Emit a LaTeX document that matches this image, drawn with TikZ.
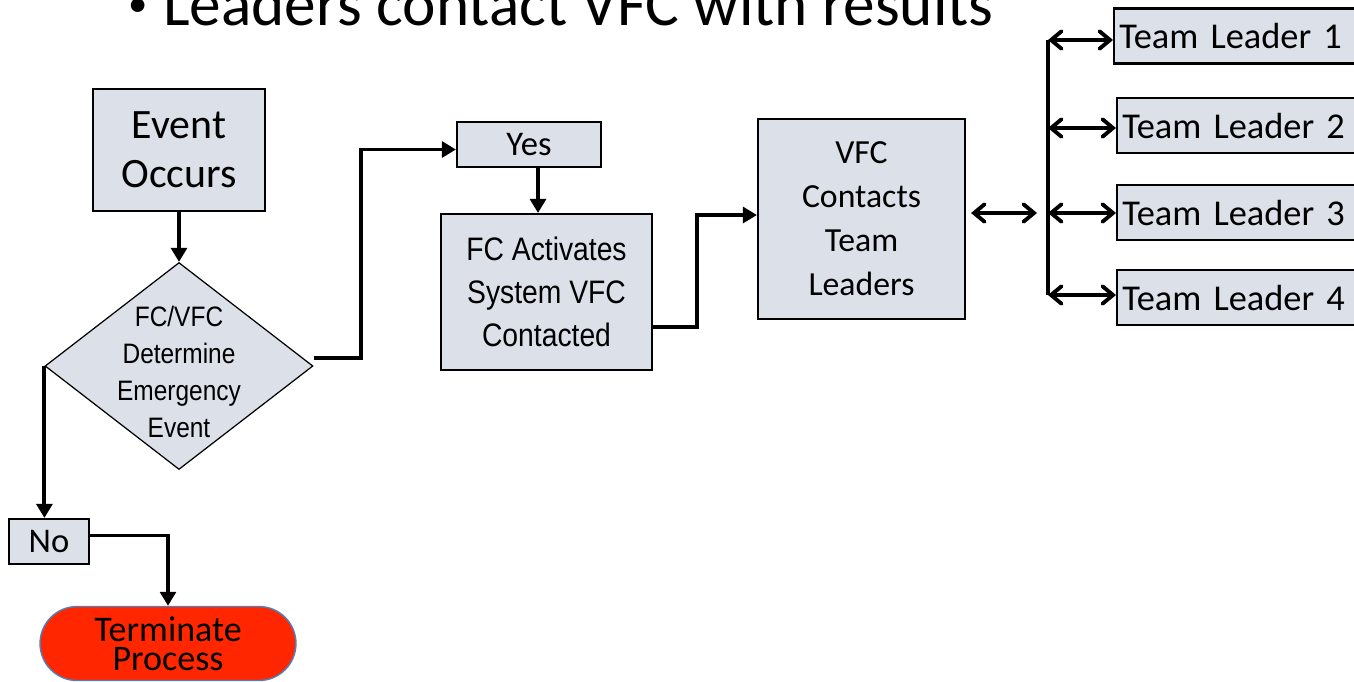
\documentclass[tikz,border=0pt]{standalone}
\usepackage{fontspec}
\setmainfont{Carlito}
\newfontfamily\arialn[FakeStretch=0.87]{Liberation Sans}
\usetikzlibrary{arrows.meta}
\usetikzlibrary{shapes.geometric}
\usetikzlibrary{shapes.misc}
\definecolor{boxfill}{RGB}{220,224,232}
\definecolor{stopred}{RGB}{255,38,0}
\definecolor{stopedge}{RGB}{79,129,189}

\begin{document}
\begin{tikzpicture}[x=0.02cm, y=-0.02cm,
    box/.style={draw, line width=1.2pt, fill=boxfill, inner sep=0pt, align=center},
    leader/.style={box, anchor=west, minimum height=1.1cm, text width=5.6cm, inner xsep=3pt, align=left, font=\fontsize{20.7}{25}\selectfont},
    flow/.style={line width=2.2pt, -{Triangle[length=8pt, width=9pt]}},
    link/.style={line width=2.2pt},
    both/.style={line width=2.2pt, {Straight Barb[length=6pt, width=10pt, line cap=round]}-{Straight Barb[length=6pt, width=10pt, line cap=round]}}]
    \useasboundingbox (0,0) rectangle (1354,681);
    \clip (0,0) rectangle (1354,681);
    \node [anchor=base west, inner sep=0pt, font=\fontsize{36}{40}\selectfont] (title) at (163,25) {Leaders contact VFC with results};
    \node [anchor=base east, inner sep=0pt, font=\fontsize{22}{24}\selectfont] (bullet) at (148,16) {\textbullet};
    \node [box, minimum width=3.44cm, minimum height=2.44cm, font=\fontsize{23.8}{28}\selectfont] (event) at (179,150) {Event\\Occurs};
    \node [diamond, draw, line width=0.7pt, fill=boxfill, minimum width=5.36cm, minimum height=4.14cm, inner sep=0pt,
      label={[align=center, yshift=-0.12cm, font=\arialn\fontsize{16}{21}\selectfont]center:{FC/VFC\\Determine\\Emergency\\Event}}] (decide) at (179,366) {};
    \node [box, minimum width=2.88cm, minimum height=0.9cm, font=\fontsize{19.7}{24}\selectfont] (yes) at (529,144.5) {Yes};
    \node [box, minimum width=4.22cm, minimum height=3.12cm, font=\arialn\fontsize{18.5}{24.4}\selectfont] (activate) at (546.5,292) {FC Activates\\System VFC\\Contacted};
    \node [box, minimum width=4.14cm, minimum height=4cm, font=\fontsize{19.2}{25}\selectfont] (vfc) at (861.5,219) {VFC\\Contacts\\Team\\Leaders};
    \node [leader] (lead1) at (1113,36) {Team Leader 1};
    \node [leader] (lead2) at (1116,125.5) {Team Leader 2};
    \node [leader] (lead3) at (1116,212.5) {Team Leader 3};
    \node [leader] (lead4) at (1116,297.5) {Team Leader 4};
    \node [box, minimum width=1.6cm, minimum height=0.9cm, font=\fontsize{19.7}{24}\selectfont] (no) at (49,541.5) {No};
    \node [rounded rectangle, draw=stopedge, line width=0.8pt, fill=stopred, minimum width=5.12cm, minimum height=1.48cm, inner sep=0pt,
      align=center, font=\fontsize{20.5}{16.5}\selectfont] (stop) at (168,643.5) {Terminate\\Process};
    \coordinate (bus1) at (1048,40);
    \coordinate (bus2) at (1048,128);
    \coordinate (bus3) at (1048,213);
    \coordinate (bus4) at (1048,295);
    \draw [flow] (event) -- (decide);
    \draw [flow] ([yshift=0.16cm]decide.east) -- ++(47,0) |- ([yshift=-0.1cm]yes.west);
    \draw [flow] ([xshift=0.18cm]yes.south) -- ([xshift=-0.17cm]activate.north);
    \draw [flow] ([yshift=-0.7cm]activate.east) -- ++(44,0) |- ([yshift=0.08cm]vfc.west);
    \draw [flow] (decide.west) -- (decide.west |- no.north);
    \draw [flow] ([yshift=0.12cm]no.east) -| (stop.north);
    \draw [both, shorten <=0.1cm, shorten >=0.22cm] (vfc.east |- bus3) -- (bus3);
    \draw [link] (bus1) -- (bus4);
    \foreach \i in {1,...,4}
      \draw [both] (bus\i) -- (bus\i -| lead\i.west);
  \end{tikzpicture}
\end{document}
